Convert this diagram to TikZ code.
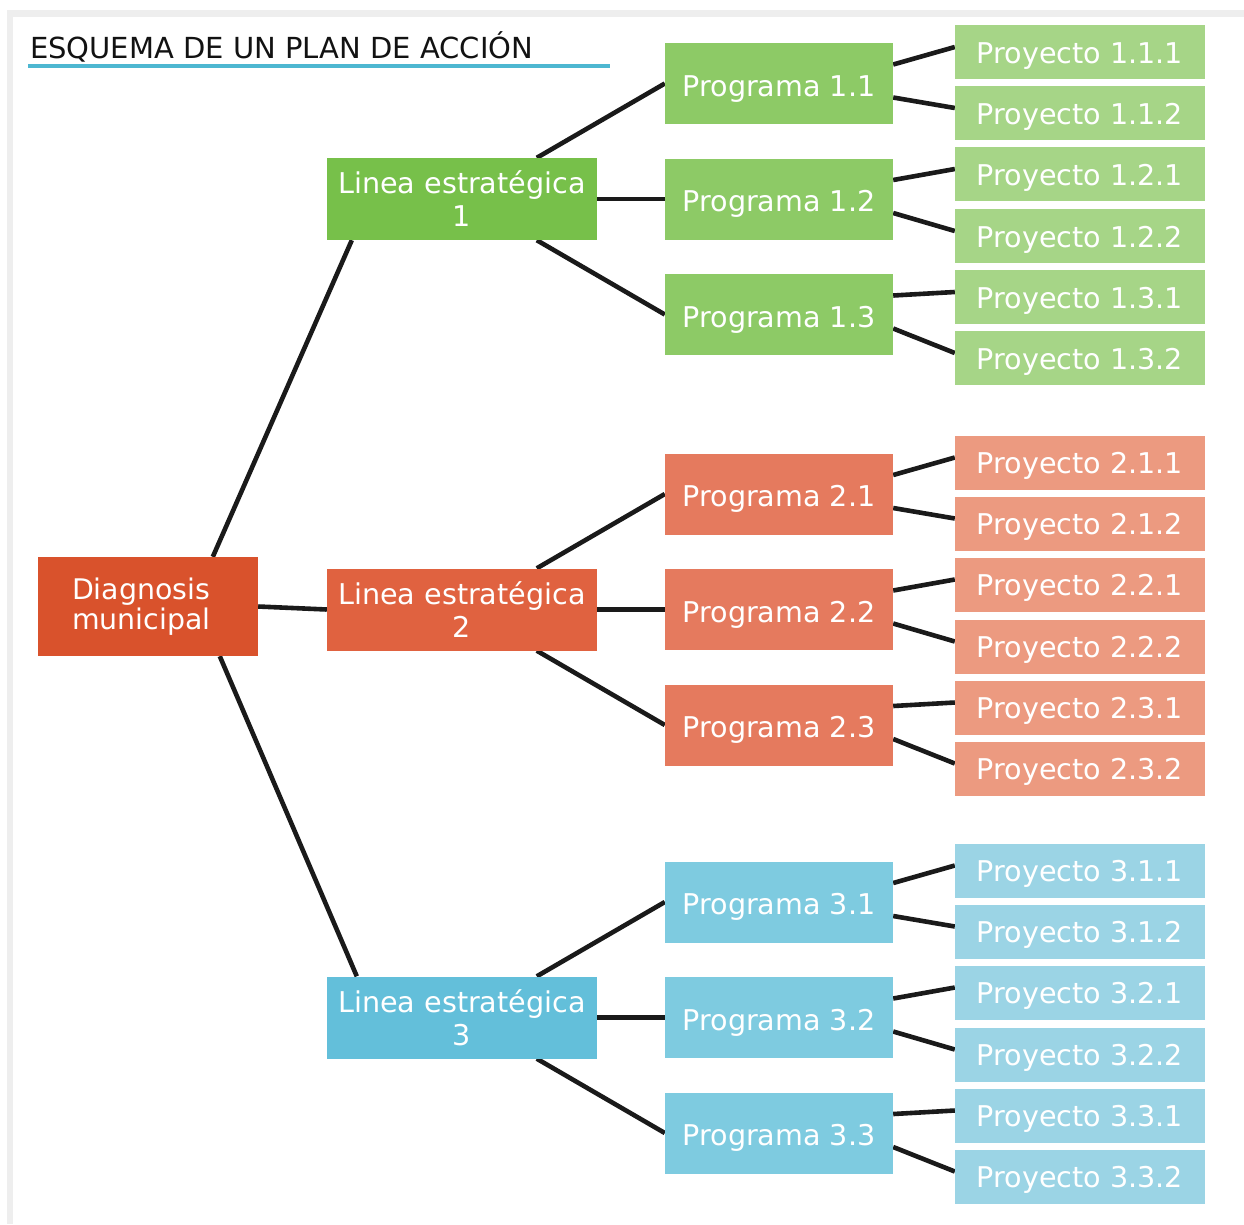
\documentclass[tikz,border=0pt]{standalone}
\usepackage{fontspec}
\setmainfont{DejaVu Sans}
\usetikzlibrary{backgrounds}
\definecolor{diag}{HTML}{D9522C}
\definecolor{linA}{HTML}{77C04A}
\definecolor{linB}{HTML}{E06240}
\definecolor{linC}{HTML}{63BFDA}
\definecolor{progA}{HTML}{8DCA66}
\definecolor{progB}{HTML}{E57A5E}
\definecolor{progC}{HTML}{7ECBE0}
\definecolor{proyA}{HTML}{A6D587}
\definecolor{proyB}{HTML}{EC9A80}
\definecolor{proyC}{HTML}{9BD4E5}
\definecolor{titleblue}{HTML}{4DB7D1}
\definecolor{framegray}{HTML}{EEEEEE}
\definecolor{conncol}{HTML}{1A1A1A}
\begin{document}
\begin{tikzpicture}[x=1pt,y=-1pt,
  box/.style={rectangle, inner sep=0pt, text=white, font=\fontsize{28.6}{33}\selectfont},
  linbox/.style={box, minimum width=270pt, minimum height=82pt, align=center},
  progbox/.style={box, minimum width=228pt, minimum height=81pt, text height=28pt, text depth=3pt},
  proybox/.style={box, minimum width=250pt, minimum height=54pt, text height=25pt, text depth=3pt},
  conn/.style={draw=conncol, line width=4.6pt}]
\useasboundingbox (0,0) rectangle (1244,1224);

% title
\node[anchor=base west, inner sep=0pt, text=black!93, font=\fontsize{29}{34}\selectfont] (title) at (30,58) {ESQUEMA DE UN PLAN DE ACCIÓN};
\fill[titleblue] (28,64) rectangle (610,68);

% root
\node[box, fill=diag, minimum width=220pt, minimum height=99pt, text width=152pt, inner xsep=34pt, align=left, font=\fontsize{28.4}{30}\selectfont] (d) at (148,606.5) {Diagnosis\\municipal};

\foreach \i/\off/\c in {1/0/A, 2/410.5/B, 3/818.5/C} {
  \node[linbox, fill=lin\c] (l\i) at (462, 199+\off) {Linea estratégica\\\i};
  \foreach \j/\po in {1/0, 2/115.5, 3/231} {
    \node[progbox, fill=prog\c] (p\i\j) at (779, 83.5+\po+\off) {Programa \i.\j};
  }
  \foreach \j/\k/\qo in {1/1/0, 1/2/61, 2/1/122, 2/2/184, 3/1/245, 3/2/306} {
    \node[proybox, fill=proy\c] (q\i\j\k) at (1080, 52+\qo+\off) {Proyecto \i.\j.\k};
  }
}

\begin{pgfonlayer}{background}
  \fill[framegray] (7,10) rectangle (1244,1224);
  \fill[white] (13,17) rectangle (1244,1224);
  \draw[conn] ([xshift=175pt]d.north west) -- ([xshift=25pt]l1.south west);
  \draw[conn] (d.east) -- (l2.west);
  \draw[conn] ([xshift=182pt]d.south west) -- ([xshift=30pt]l3.north west);
  \foreach \i in {1,2,3} {
    \draw[conn] ([xshift=210pt]l\i.north west) -- (p\i1.west);
    \draw[conn] (l\i.east) -- (p\i2.west);
    \draw[conn] ([xshift=210pt]l\i.south west) -- (p\i3.west);
    \foreach \j in {1,2,3} {
      \draw[conn] ([yshift=19pt]p\i\j.east) -- ([yshift=5pt]q\i\j1.west);
      \draw[conn] ([yshift=-14pt]p\i\j.east) -- ([yshift=5pt]q\i\j2.west);
    }
  }
\end{pgfonlayer}
\end{tikzpicture}
\end{document}
